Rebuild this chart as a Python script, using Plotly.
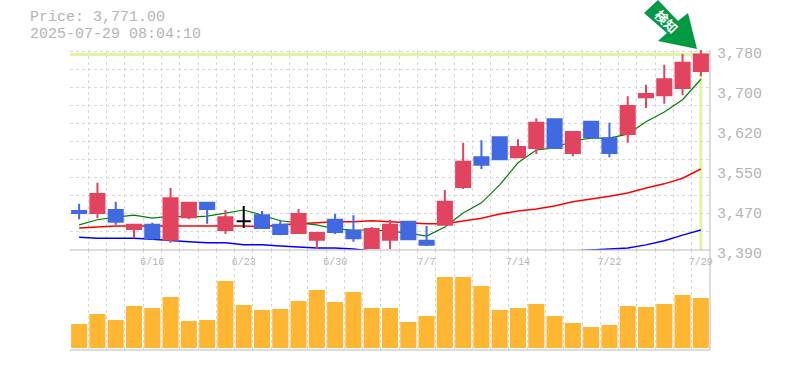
import plotly.graph_objects as go

dates = ["6/10","6/11","6/12","6/13","6/16","6/17","6/18","6/19","6/20","6/23","6/24","6/25","6/26","6/27","6/30",
         "7/1","7/2","7/3","7/4","7/7","7/8","7/9","7/10","7/11","7/14","7/15","7/16","7/17","7/18","7/22",
         "7/23","7/24","7/25","7/28","7/29"]
opens = [3466,3462,3468,3431,3439,3410,3454,3482,3429,3446,3458,3439,3423,3410,3449,3427,3394,3410,3445,3408,
         3439,3513,3571,3610,3571,3589,3645,3579,3640,3608,3616,3688,3692,3706,3739]
highs = [3480,3521,3484,3439,3443,3511,3482,3484,3468,3476,3466,3449,3470,3425,3460,3458,3435,3449,3447,3437,
         3507,3599,3604,3610,3606,3647,3645,3620,3640,3638,3690,3712,3751,3772,3780]
lows = [3450,3452,3439,3415,3410,3404,3450,3441,3421,3433,3431,3419,3423,3392,3421,3406,3392,3392,3410,3398,
        3439,3509,3548,3566,3571,3577,3589,3573,3610,3571,3599,3667,3675,3692,3729]
closes = [3462,3499,3445,3439,3413,3491,3482,3470,3454,3446,3433,3421,3460,3423,3425,3413,3431,3439,3411,3400,
          3484,3562,3556,3567,3591,3638,3589,3620,3610,3579,3671,3694,3723,3755,3771]
ma_short = [3439,3449,3454,3458,3452,3456,3454,3456,3462,3468,3458,3447,3443,3439,3431,3429,3429,3427,3423,3417,
            3435,3462,3482,3517,3560,3585,3589,3603,3608,3608,3616,3640,3659,3683,3723]
ma_mid = [3433,3435,3437,3437,3437,3437,3437,3437,3437,3437,3435,3439,3441,3443,3445,3445,3447,3445,3443,3441,
          3441,3447,3452,3460,3466,3470,3476,3484,3489,3495,3501,3511,3519,3530,3548]
ma_long = [3415,3413,3413,3413,3411,3408,3406,3404,3404,3400,3400,3398,3396,3394,3394,3392,3388,3386,3385,3384,
           3383,3382,3382,3382,3383,3384,3386,3388,3390,3392,3394,3400,3408,3419,3429]
volumes = [24,34,28,42,40,51,27,28,67,43,38,39,47,58,46,56,40,40,26,32,71,71,62,38,40,44,32,25,21,23,42,41,44,53,50]

price_tick_vals = [3780,3702,3624,3546,3468,3390]
price_tick_text = ["3,780","3,700","3,620","3,550","3,470","3,390"]
date_tick_idx = [4,9,14,19,24,29,34]
price_line = 3771
header = ["Price: 3,771.00","2025-07-29 08:04:10"]
badge = "検知"

UP, DOWN, FLAT = "#e24460", "#4169e1", "#000000"
GRID, AXIS, TEXT = "#d8d8d8", "#bbbbbb", "#b4b4b4"
MONO = "Liberation Mono"
n = len(dates)
xs = list(range(n))

fig = go.Figure()
fig.add_trace(go.Bar(x=xs, y=volumes, marker=dict(color="#ffb733", line=dict(width=0)), xaxis="x", yaxis="y2", showlegend=False))
for vals, col, w in [(ma_long,"#0000ff",1.5),(ma_mid,"#ff0000",1.5),(ma_short,"#008000",1.2)]:
    fig.add_trace(go.Scatter(x=xs, y=vals, mode="lines", line=dict(color=col,width=w), xaxis="x2", yaxis="y", showlegend=False, zorder=1))

groups = {
    UP: [i for i in xs if closes[i] > opens[i]],
    DOWN: [i for i in xs if closes[i] < opens[i]],
    FLAT: [i for i in xs if closes[i] == opens[i]],
}
for col, idx in groups.items():
    side = dict(line=dict(color=col,width=2), fillcolor=col)
    fig.add_trace(go.Candlestick(
        x=idx, open=[opens[i] for i in idx], high=[highs[i] for i in idx],
        low=[lows[i] for i in idx], close=[closes[i] for i in idx],
        increasing=side, decreasing=side, whiskerwidth=0, xaxis="x2", yaxis="y", showlegend=False, zorder=2))

xr = [-0.5, n-0.5]
vgrid = [i-0.5 for i in xs]
hgrid = [3778 - 35.1*k for k in range(12)]
grid_style = dict(showgrid=True, gridcolor=GRID, gridwidth=1, griddash="3px,3px", ticks="")
frame = [
    dict(xref="paper", x0=0, x1=1, yref="paper", y0=0, y1=0),
    dict(xref="paper", x0=0, x1=1, yref="paper", y0=1/3, y1=1/3),
    dict(xref="paper", x0=1, x1=1, yref="paper", y0=0, y1=1),
]
fig.update_layout(
    width=785, height=370, autosize=False,
    margin=dict(l=70, r=75, t=50, b=20, autoexpand=False),
    paper_bgcolor="white", plot_bgcolor="white",
    bargap=0.12, boxgap=0.23, boxgroupgap=0, showlegend=False,
    xaxis=dict(domain=[0,1], range=xr, anchor="y2", showticklabels=False, showgrid=False, zeroline=False,
               showline=False, ticks="",
               minor=dict(tickmode="array", tickvals=vgrid, **grid_style), rangeslider=dict(visible=False)),
    xaxis2=dict(domain=[0,1], range=xr, anchor="y", tickmode="array", tickvals=date_tick_idx,
                ticktext=[dates[i] for i in date_tick_idx], showgrid=False, zeroline=False,
                showline=False, ticks="", ticklabelstandoff=4,
                tickfont=dict(family=MONO,size=10,color=TEXT), ticklabeloverflow="allow",
                minor=dict(tickmode="array", tickvals=vgrid, **grid_style), rangeslider=dict(visible=False)),
    yaxis=dict(domain=[1/3,1], range=[3390,3780], anchor="x2", side="right", tickmode="array",
               tickvals=price_tick_vals, ticktext=price_tick_text, showgrid=False, zeroline=False,
               showline=False, ticks="", ticklabelstandoff=6, ticklabelshift=3,
               tickfont=dict(family=MONO,size=15,color=TEXT), ticklabeloverflow="allow",
               minor=dict(tickmode="array", tickvals=hgrid, **grid_style)),
    yaxis2=dict(domain=[0,1/3], range=[-2,98], anchor="x", side="right", showticklabels=False, showgrid=False,
                zeroline=False, showline=False, ticks=""),
    shapes=[
        dict(type="line", xref="paper", x0=0, x1=1, yref="y", y0=price_line, y1=price_line,
             line=dict(color="#e0f5a0",width=3), layer="below"),
        dict(type="line", xref="x2", x0=n-1, x1=n-1, yref="y", y0=price_line, y1=3390,
             line=dict(color="#e0f5a0",width=3), layer="below"),
    ] + [dict(type="line", line=dict(color=AXIS,width=1), layer="above", **f) for f in frame] + [
        # arrow badge, in pixels relative to the plot's top-right corner
        dict(type="path", xref="paper", yref="paper", xsizemode="pixel", ysizemode="pixel", xanchor=1, yanchor=1,
             path="M -52 50 L -66 37 L -43 17 L -52 9 L -13 1 L -22 37 L -32 29 Z",
             fillcolor="#009944", line=dict(width=0), layer="above"),
    ],
    annotations=[
        dict(text=header[0], xref="paper", yref="paper", x=0, y=1, xanchor="left", yanchor="middle", xshift=-41, yshift=33,
             showarrow=False, borderpad=0, font=dict(family=MONO,size=15,color=TEXT)),
        dict(text=header[1], xref="paper", yref="paper", x=0, y=1, xanchor="left", yanchor="middle", xshift=-41, yshift=16,
             showarrow=False, borderpad=0, font=dict(family=MONO,size=15,color=TEXT)),
        dict(text="<b>"+badge+"</b>", xref="paper", yref="paper", x=1, y=1, xanchor="center", yanchor="middle", xshift=-43, yshift=29,
             showarrow=False, textangle=45, font=dict(family="Noto Sans CJK JP",size=13,color="white")),
    ],
)
fig.write_html("out.html", config=dict(displayModeBar=False),
               post_script="document.body.style.margin='0';document.body.style.overflow='hidden';")
